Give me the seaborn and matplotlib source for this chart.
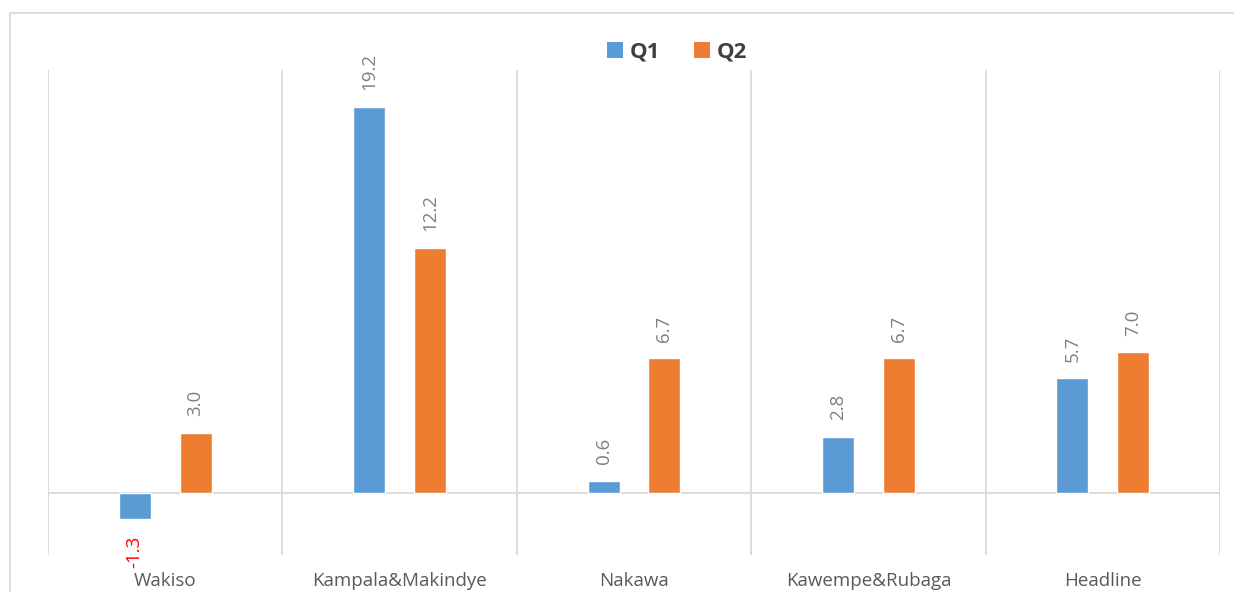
import matplotlib
matplotlib.use("Agg")
import matplotlib.pyplot as plt
import seaborn as sns
import pandas as pd
from matplotlib.patches import Rectangle, Patch

categories = ["Wakiso", "Kampala&Makindye", "Nakawa", "Kawempe&Rubaga", "Headline"]
q1 = [-1.3, 19.2, 0.6, 2.8, 5.7]
q2 = [3.0, 12.2, 6.7, 6.7, 7.0]
series = ["Q1", "Q2"]
colors = ["#5B9BD5", "#ED7D31"]

df = pd.DataFrame({
    "cat": categories * 2,
    "quarter": ["Q1"] * len(categories) + ["Q2"] * len(categories),
    "value": q1 + q2,
})

sns.set_style("white")
plt.rcParams["font.family"] = ["Open Sans", "DejaVu Sans"]

fig = plt.figure(figsize=(12.34, 5.92), dpi=100)
ax = fig.add_axes([48/1234, 1-555/592, (1220-48)/1234, (555-70)/592])

sns.barplot(data=df, x="cat", y="value", hue="quarter", order=categories,
            hue_order=series, palette=colors, width=0.52, gap=0.475,
            saturation=1, errorbar=None, legend=False, ax=ax)

ax.set_xlim(-0.5, len(categories) - 0.5)
ax.set_ylim(-3.08, 21.04)
for s in ax.spines.values():
    s.set_visible(False)
ax.set_yticks([])
ax.set_xlabel("")
ax.set_ylabel("")
ax.tick_params(axis="x", length=0, pad=12, labelsize=13.5, labelcolor="#595959")

grid_c = "#d9d9d9"
for i in range(len(categories) + 1):
    ax.axvline(i - 0.5, color=grid_c, lw=1.3, zorder=0)
ax.axhline(0, color=grid_c, lw=1.3, zorder=0.5)

for cont in ax.containers:
    texts = ax.bar_label(cont, fmt="%.1f", rotation=90, padding=12,
                         fontsize=13.5, color="#7f7f7f")
    for t, bar in zip(texts, cont):
        if bar.get_height() < 0:
            t.set_color("#ff0000")

handles = [Patch(facecolor=c, edgecolor="none") for c in colors]
leg = fig.legend(handles, series, loc="center", bbox_to_anchor=(677/1234, 1-52/592),
                 ncol=2, frameon=False, handlelength=0.75, handleheight=0.75,
                 handletextpad=0.3, columnspacing=1.5,
                 prop={"weight": "bold", "size": 16})
for t in leg.get_texts():
    t.set_color("#404040")

fig.patches.append(Rectangle((10/1234, -0.01), 1.05, 1-13/592+0.01,
                             transform=fig.transFigure, fill=False,
                             edgecolor="#d9d9d9", lw=1.3))

fig.savefig("out.png", dpi=100)
